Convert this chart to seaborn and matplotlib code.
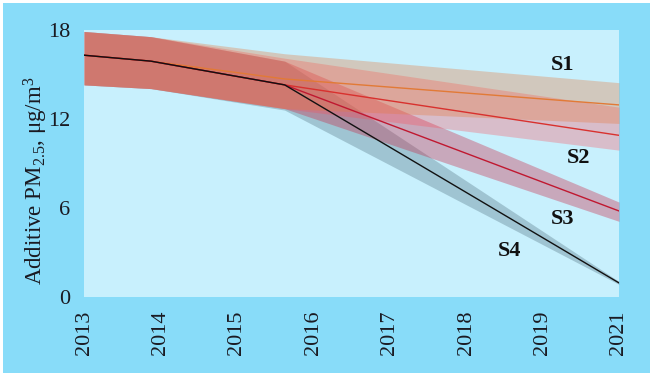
import numpy as np
import pandas as pd
import matplotlib
matplotlib.use("Agg")
import matplotlib.pyplot as plt
from matplotlib.patches import Rectangle
import seaborn as sns

# data
years = [2013, 2014, 2016, 2021]

s1_mid = [16.3, 15.9, 14.7, 12.95]
s1_lo = [14.3, 14.05, 12.7, 11.7]
s1_hi = [17.9, 17.55, 16.4, 14.45]

s2_mid = [16.3, 15.9, 14.3, 10.9]
s2_lo = [14.3, 14.05, 12.7, 9.9]
s2_hi = [17.9, 17.55, 16.1, 12.8]

s3_mid = [16.3, 15.9, 14.3, 5.8]
s3_lo = [14.3, 14.05, 12.7, 5.1]
s3_hi = [17.9, 17.55, 15.9, 6.4]

s4_mid = [16.3, 15.9, 14.3, 0.95]
s4_lo = [14.3, 14.05, 12.6, 0.85]
s4_hi = [17.9, 17.55, 15.9, 1.05]

scenarios = ["S1", "S2", "S3", "S4"]
tick_labels = ["2013", "2014", "2015", "2016", "2017", "2018", "2019", "2021"]
y_ticks = [0, 6, 12, 18]

line_colors = {"S1": "#e27a36", "S2": "#d8312e", "S3": "#c01830", "S4": "#111111"}
band_colors = {"S1": "#e6783c", "S2": "#ff4a55", "S3": "#c82a48", "S4": "#4a6a78"}
band_alpha = {"S1": 0.33, "S2": 0.3, "S3": 0.36, "S4": 0.32}
label_pos = {"S1": (2020.15, 15.67), "S2": (2020.40, 9.37),
             "S3": (2020.15, 5.26), "S4": (2019.37, 3.10)}

mids = {"S1": s1_mid, "S2": s2_mid, "S3": s3_mid, "S4": s4_mid}
los = {"S1": s1_lo, "S2": s2_lo, "S3": s3_lo, "S4": s4_lo}
his = {"S1": s1_hi, "S2": s2_hi, "S3": s3_hi, "S4": s4_hi}

rows = []
for s in scenarios:
    for yr, v in zip(years, mids[s]):
        rows.append({"year": yr, "value": v, "scenario": s})
df = pd.DataFrame(rows)

sns.set_style("white", {"axes.facecolor": "#c8f0fd"})
plt.rcParams["font.family"] = "Liberation Serif"
plt.rcParams["mathtext.fontset"] = "custom"
plt.rcParams["mathtext.rm"] = "Liberation Serif"
plt.rcParams["mathtext.it"] = "Liberation Serif:italic"
plt.rcParams["mathtext.bf"] = "Liberation Serif:bold"
plt.rcParams["mathtext.default"] = "rm"

fig = plt.figure(figsize=(6.56, 3.78), dpi=100)
fig.patch.set_facecolor("white")
frame = Rectangle((3 / 656, 5 / 378), 647 / 656, 370 / 378,
                  transform=fig.transFigure, facecolor="#88dcf9",
                  edgecolor="none", zorder=-10)
fig.add_artist(frame)

ax = fig.add_axes([84 / 656, 81 / 378, 535 / 656, 267 / 378])
ax.set_zorder(1)

# bands: S4 at the bottom, S1 on top
for s in reversed(scenarios):
    ax.fill_between(years, los[s], his[s], color=band_colors[s],
                    alpha=band_alpha[s], linewidth=0, zorder=1)

sns.lineplot(data=df, x="year", y="value", hue="scenario",
             hue_order=scenarios, palette=line_colors, linewidth=1.0,
             legend=False, ax=ax, zorder=3)

for s in scenarios:
    ax.text(*label_pos[s], s, ha="center", va="center", fontsize=16,
            fontweight="bold", color="#111111")

ax.set_xlim(2013, 2021)
ax.set_ylim(0, 18)
ax.set_xticks(np.linspace(2013, 2021, len(tick_labels)))
ax.set_xticklabels(tick_labels, rotation=90, fontsize=16)
ax.set_yticks(y_ticks)
ax.set_yticklabels([str(t) for t in y_ticks], fontsize=16)
ax.tick_params(length=0, pad=10, colors="#1a1a22")
ax.set_xlabel("")
ax.set_ylabel("Additive PM$_{2.5}$, μg/m$^{3}$", fontsize=16.5, color="#1a1a22")
ax.yaxis.set_label_coords(-0.064, 0.434)
for sp in ax.spines.values():
    sp.set_visible(False)

fig.savefig("out.png", dpi=100, facecolor=fig.get_facecolor())
